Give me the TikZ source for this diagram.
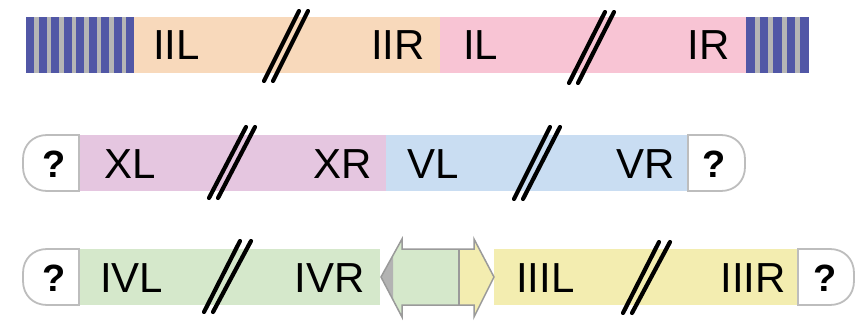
\documentclass[tikz,border=0pt]{standalone}
\usepackage{fontspec}
\setmainfont{Liberation Sans}
\definecolor{stripeblue}{HTML}{5157A6}
\definecolor{stripegrey}{HTML}{B5B5B5}
\definecolor{peach}{HTML}{F8D9BB}
\definecolor{rose}{HTML}{F8C4D4}
\definecolor{lilac}{HTML}{E5C6E0}
\definecolor{skyblue}{HTML}{C9DDF2}
\definecolor{leaf}{HTML}{D5E8CB}
\definecolor{straw}{HTML}{F3EDB0}
\definecolor{capgrey}{HTML}{BDBDBD}
\definecolor{edgegrey}{HTML}{9A9A9A}
\definecolor{tipgrey}{HTML}{B3B3B3}
\begin{document}
\begin{tikzpicture}[x=1pt,y=-1pt,
  lab/.style={inner sep=0pt, font=\fontsize{42}{48}\selectfont},
  qm/.style={inner sep=0pt, anchor=base, font=\fontsize{38}{44}\selectfont\bfseries},
  cut/.style={line width=4.2pt, line cap=round},
  capline/.style={draw=capgrey, line width=1.8pt, fill=white},
  arrowline/.style={draw=edgegrey, line width=1.5pt, line join=miter}]
\useasboundingbox (0,0) rectangle (868,321);

% ---------- chromosome I/II: telomeric repeats at both ends ----------
\fill[stripegrey] (26,17) rectangle (134,73);
\foreach \i in {0,...,8} \fill[stripeblue] ({26+\i*12.56},17) rectangle ++(8,56);
\fill[peach] (134,17) rectangle (440,73);
\fill[rose] (440,17) rectangle (746,73);
\fill[stripegrey] (746,17) rectangle (808,73);
\foreach \i in {0,...,4} \fill[stripeblue] ({746+\i*13.5},17) rectangle ++(8.5,56);
\draw[cut] (264,81) -- (299,11);
\draw[cut] (273,81) -- (308,11);
\draw[cut] (569,83) -- (605,12);
\draw[cut] (578,83) -- (614,12);
\node[lab, anchor=base west] (iil) at (153,60) {IIL};
\node[lab, anchor=base east] (iir) at (425,60) {IIR};
\node[lab, anchor=base west] (il)  at (463,60) {IL};
\node[lab, anchor=base east] (ir)  at (730,60) {IR};

% ---------- chromosome X/V: unknown ends ----------
\fill[lilac] (79,135) rectangle (386,191);
\fill[skyblue] (386,135) rectangle (688,191);
\draw[capline] (79,135) -- (47,135) .. controls (33,135) and (23,145) .. (23,159)
  -- (23,167) .. controls (23,181) and (33,191) .. (47,191) -- (79,191) -- cycle;
\draw[capline] (688,135) -- (721,135) .. controls (735,135) and (745,145) .. (745,159)
  -- (745,167) .. controls (745,181) and (735,191) .. (721,191) -- (688,191) -- cycle;
\draw[cut] (209,198) -- (246,127);
\draw[cut] (218,198) -- (255,127);
\draw[cut] (514,199) -- (550,127);
\draw[cut] (523,199) -- (560,127);
\node[qm] (q2l) at (54,177) {?};
\node[qm] (q2r) at (714,177) {?};
\node[lab, anchor=base west] (xl) at (104,178) {XL};
\node[lab, anchor=base east] (xr) at (372,178) {XR};
\node[lab, anchor=base west] (vl) at (407,178) {VL};
\node[lab, anchor=base east] (vr) at (675,178) {VR};

% ---------- chromosome IV/III with a double-headed arrow between ----------
\fill[leaf] (79,249) rectangle (380,305);
\fill[straw] (494,249) rectangle (798,305);
\draw[capline] (79,249) -- (47,249) .. controls (33,249) and (23,259) .. (23,273)
  -- (23,281) .. controls (23,295) and (33,305) .. (47,305) -- (79,305) -- cycle;
\draw[capline] (798,249) -- (830,249) .. controls (844,249) and (854,259) .. (854,273)
  -- (854,281) .. controls (854,295) and (844,305) .. (830,305) -- (798,305) -- cycle;
\fill[leaf] (381,277) -- (402,239) -- (402,249) -- (459,249) -- (459,305) -- (402,305) -- (402,317) -- cycle;
\fill[straw] (459,249) -- (474,249) -- (474,239) -- (494,277) -- (474,317) -- (474,305) -- (459,305) -- cycle;
\fill[tipgrey] (381,277) -- (393,255) -- (393,299) -- cycle;
\draw[arrowline] (381,277) -- (402,239) -- (402,249) -- (474,249) -- (474,239) -- (494,277)
  -- (474,317) -- (474,305) -- (402,305) -- (402,317) -- cycle;
\draw[arrowline] (459,249) -- (459,305);
\draw[cut] (204,312) -- (240,241);
\draw[cut] (213,312) -- (251,241);
\draw[cut] (623,313) -- (659,242);
\draw[cut] (632,313) -- (670,242);
\node[qm] (q3l) at (54,291) {?};
\node[qm] (q3r) at (825,291) {?};
\node[lab, anchor=base west] (ivl)  at (100,292) {IVL};
\node[lab, anchor=base east] (ivr)  at (365,292) {IVR};
\node[lab, anchor=base west] (iiil) at (516,292) {IIIL};
\node[lab, anchor=base east] (iiir) at (786,292) {IIIR};
\end{tikzpicture}
\end{document}
